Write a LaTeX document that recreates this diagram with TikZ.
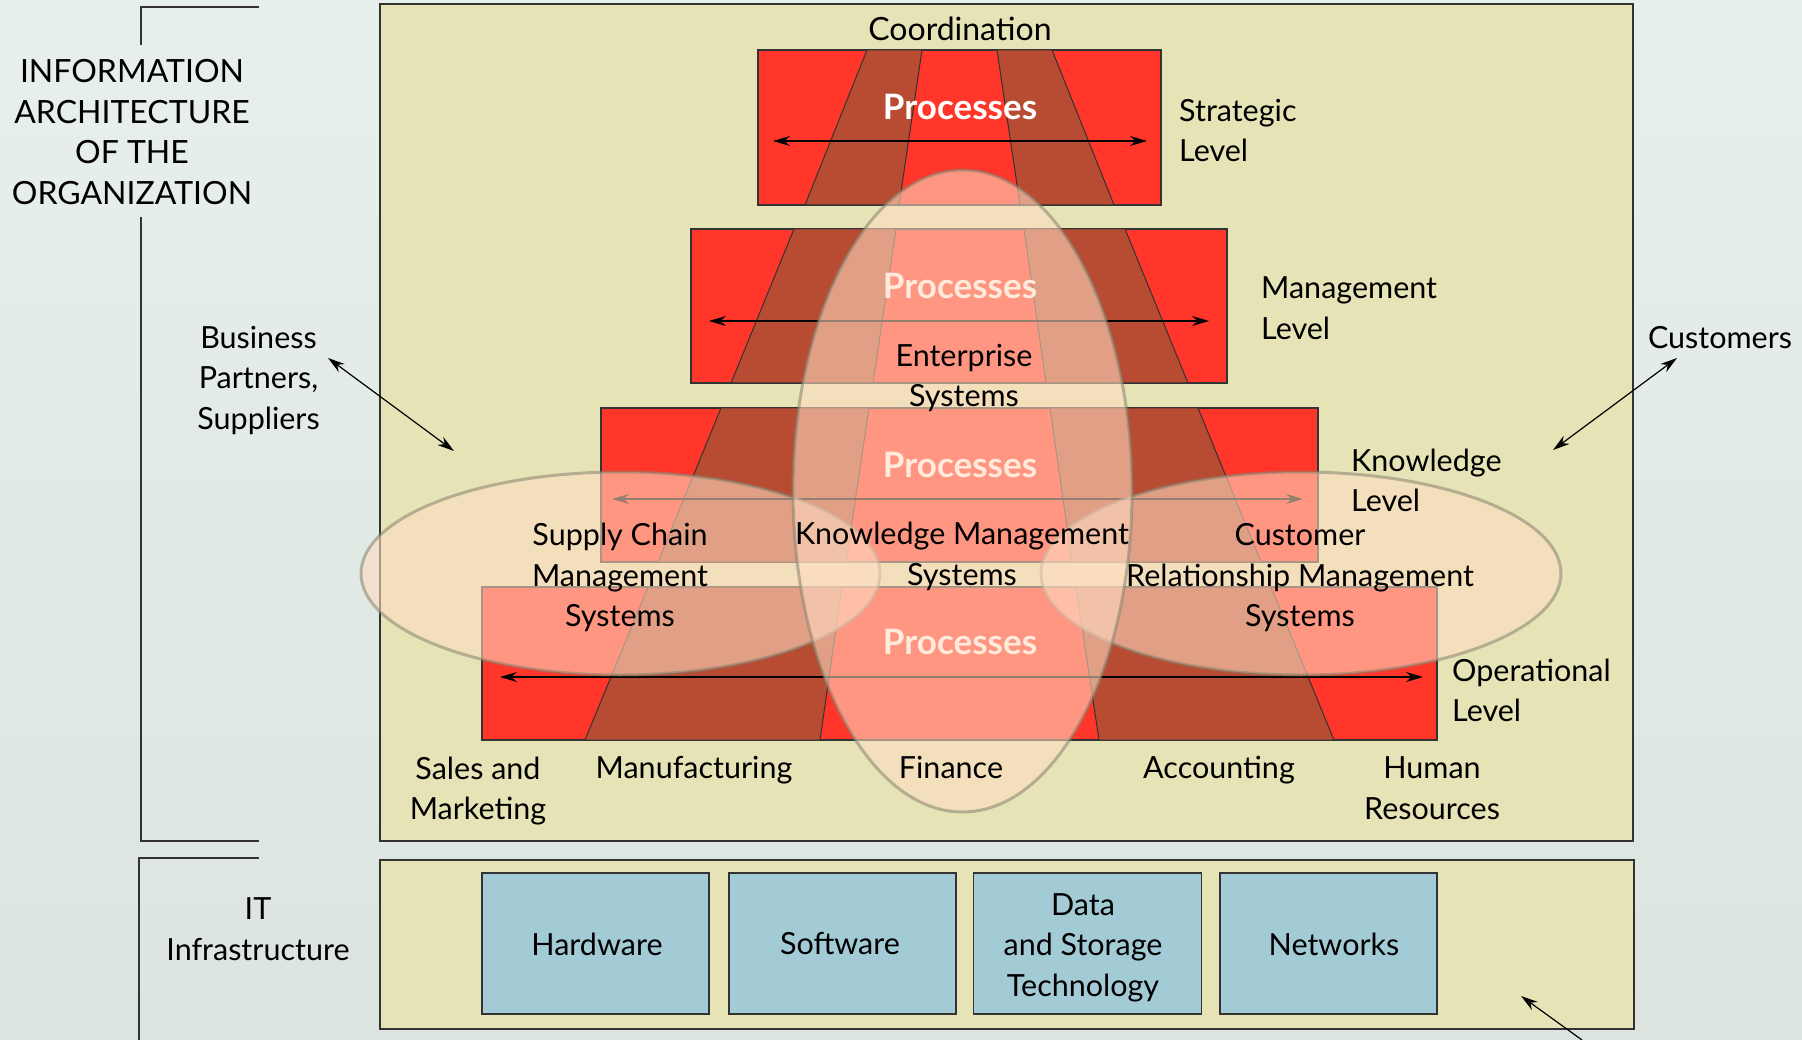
\documentclass[tikz,border=0pt]{standalone}
\usepackage{fontspec}
\setmainfont{Lato}
\usetikzlibrary{shapes.geometric, arrows.meta}
\definecolor{bgtop}{HTML}{E8F0EC}
\definecolor{bgbottom}{HTML}{DBE4DF}
\definecolor{panel}{HTML}{E6E4B6}
\definecolor{levelred}{HTML}{FF3629}
\definecolor{deptbrown}{HTML}{B84C33}
\definecolor{itblue}{HTML}{A3CBD6}
\definecolor{syspeach}{HTML}{FFDCC2}
\definecolor{sysedge}{HTML}{85836F}
\definecolor{inkline}{HTML}{333333}
\tikzset{
  lab/.style={font=\fontsize{30.5}{40.5}\selectfont, align=center, inner sep=0pt},
  labcaps/.style={lab, font=\fontsize{32}{40.5}\selectfont},
  lableft/.style={lab, align=left, anchor=west},
  proc/.style={font=\fontsize{35}{36}\selectfont\bfseries, text=white, inner sep=0pt},
  panelbox/.style={draw=inkline, fill=panel, line width=1.8pt, inner sep=0pt},
  level/.style={draw=inkline, fill=levelred, line width=1.2pt, inner sep=0pt},
  dept/.style={draw=inkline, fill=deptbrown, line width=1pt},
  itbox/.style={draw=inkline, fill=itblue, line width=1.8pt, inner sep=0pt, minimum height=141pt},
  sys/.style={ellipse, draw=sysedge, fill=syspeach, fill opacity=.58, draw opacity=.55, line width=3pt, inner sep=0pt},
  arr/.style={line width=1.2pt, -{Stealth[length=17pt,width=10pt]}},
  arrboth/.style={line width=1.2pt, {Stealth[length=17pt,width=10pt]}-{Stealth[length=17pt,width=10pt]}},
  brace/.style={draw=inkline, line width=1.6pt}
}
\begin{document}
\begin{tikzpicture}[x=1pt, y=-1pt]
  \useasboundingbox (0,0) rectangle (1802,1040);
  \fill[top color=bgtop, bottom color=bgbottom] (0,0) rectangle (1802,1040);

  \node[panelbox, minimum width=1253pt, minimum height=837pt] (arch) at (1006.5,422.5) {};
  \node[panelbox, minimum width=1254pt, minimum height=169pt] (infra) at (1007,944.5) {};

  % levels, top to bottom
  \node[level, minimum width=403pt, minimum height=155pt] (strategic) at (959.5,127.5) {};
  \path[dept] (867,50) -- (922,50) -- (899,205) -- (805,205) -- cycle;
  \path[dept] (997,50) -- (1052,50) -- (1114,205) -- (1020,205) -- cycle;

  \node[level, minimum width=536pt, minimum height=154pt] (management) at (959,306) {};
  \path[dept] (794,229) -- (896,229) -- (873,383) -- (731,383) -- cycle;
  \path[dept] (1024,229) -- (1125,229) -- (1188,383) -- (1046,383) -- cycle;

  \node[level, minimum width=717pt, minimum height=154pt] (knowledge) at (959.5,485) {};
  \path[dept] (721,408) -- (869,408) -- (846,562) -- (658,562) -- cycle;
  \path[dept] (1050,408) -- (1198,408) -- (1261,562) -- (1072,562) -- cycle;

  \node[level, minimum width=955pt, minimum height=153pt] (operational) at (959.5,663.5) {};
  \path[dept] (648,587) -- (842,587) -- (820,740) -- (585,740) -- cycle;
  \path[dept] (1076,587) -- (1271,587) -- (1334,740) -- (1099,740) -- cycle;

  \coordinate (s1) at (773,141);
  \coordinate (s2) at (1147,141);
  \path[arrboth] (s1) edge (s2);
  \coordinate (m1) at (709,321);
  \coordinate (m2) at (1209,321);
  \path[arrboth] (m1) edge (m2);
  \coordinate (k1) at (612,499);
  \coordinate (k2) at (1303,499);
  \path[arrboth] (k1) edge (k2);
  \coordinate (o1) at (500,677);
  \coordinate (o2) at (1423,677);
  \path[arrboth] (o1) edge (o2);

  \node[proc] (p1) at (960,107) {Processes};
  \node[proc] (p2) at (960,286) {Processes};
  \node[proc] (p3) at (960,465) {Processes};
  \node[proc] (p4) at (960,642) {Processes};

  % system ellipses
  \node[sys, minimum width=519pt, minimum height=203pt] (scm) at (620.5,573.5) {};
  \node[sys, minimum width=520pt, minimum height=203pt] (crm) at (1301,573.5) {};
  \node[sys, minimum width=339pt, minimum height=642pt] (ent) at (962.5,491) {};

  \node[labcaps] (coord) at (960,29) {Coordination};
  \node[lableft] (lstrategic) at (1179,130.5) {Strategic\\Level};
  \node[lableft] (lmanagement) at (1261,308) {Management\\Level};
  \node[lableft] (lknowledge) at (1351,480.5) {Knowledge\\Level};
  \node[lableft] (loperational) at (1452,690.5) {Operational\\Level};

  \node[lab] (lent) at (964,378) {Enterprise\\Systems};
  \node[lab] (lscm) at (620,577.5) {Supply Chain\\Management\\Systems};
  \node[lab] (lkms) at (962,556.5) {Knowledge Management\\Systems};
  \node[lab] (lcrm) at (1300,578) {Customer\\Relationship Management\\Systems};

  \node[lab] (sales) at (478,791) {Sales and\\Marketing};
  \node[lab] (manu) at (694,770) {Manufacturing};
  \node[lab] (fin) at (951,767) {Finance};
  \node[lab] (acc) at (1219,770) {Accounting};
  \node[lab] (hr) at (1432,788) {Human\\Resources};

  \node[itbox, minimum width=227pt] (hw) at (595.5,943.5) {};
  \node[itbox, minimum width=227pt] (sw) at (842.5,943.5) {};
  \node[itbox, minimum width=228pt] (data) at (1087.5,943.5) {};
  \node[itbox, minimum width=217pt] (net) at (1328.5,943.5) {};
  \node[lab] (lhw) at (597,944) {Hardware};
  \node[lab] (lsw) at (840,944) {Software};
  \node[lab] (ldata) at (1083,947.5) {Data\\and Storage\\Technology};
  \node[lab] (lnet) at (1334,944) {Networks};

  \node[labcaps] (title) at (132,132) {INFORMATION\\ARCHITECTURE\\OF THE\\ORGANIZATION};
  \node[lab] (itlabel) at (258,929) {IT\\Infrastructure};
  \node[lab] (partners) at (258.5,380) {Business\\Partners,\\Suppliers};
  \node[lab] (customers) at (1720,338) {Customers};

  % side brackets
  \coordinate (b1) at (259,7);
  \coordinate (b2) at (141,7);
  \coordinate (b3) at (141,45);
  \path[brace] (b1) -- (b2) -- (b3);
  \coordinate (b4) at (141,217);
  \coordinate (b5) at (141,841);
  \coordinate (b6) at (259,841);
  \path[brace] (b4) -- (b5) -- (b6);
  \coordinate (b7) at (259,858);
  \coordinate (b8) at (139,858);
  \coordinate (b9) at (139,1040);
  \path[brace] (b7) -- (b8) -- (b9);

  \coordinate (a1) at (328,358);
  \coordinate (a2) at (454,451);
  \path[arrboth] (a1) edge (a2);
  \coordinate (a3) at (1677,358);
  \coordinate (a4) at (1553,450);
  \path[arrboth] (a3) edge (a4);
  \coordinate (a5) at (1582,1040);
  \coordinate (a6) at (1521,996);
  \path[arr] (a5) edge (a6);
\end{tikzpicture}
\end{document}
